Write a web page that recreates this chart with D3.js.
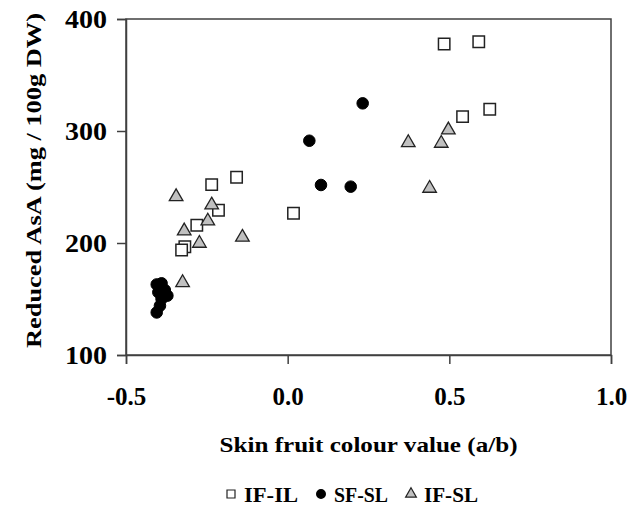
<!DOCTYPE html>
<html><head><meta charset="utf-8">
<script src="https://cdn.jsdelivr.net/npm/d3@7"></script>
<style>body{margin:0;background:#fff}svg{display:block}</style>
</head><body>
<script>
// Data
const ifilX = [0.484, 0.591, 0.541, 0.625, 0.018, -0.158, -0.235, -0.214, -0.281, -0.318, -0.328];
const ifilY = [377.7, 379.7, 312.8, 319.4, 226.5, 258.7, 252.1, 229.2, 215.8, 196.7, 193.8];
const sfslX = [0.232, 0.067, 0.103, 0.195, -0.405, -0.39, -0.38, -0.40, -0.372, -0.39, -0.395, -0.405];
const sfslY = [324.7, 291.3, 251.8, 250.3, 163, 164, 158, 156, 153, 150, 144, 138];
const ifslX = [0.373, 0.475, 0.497, 0.439, -0.345, -0.235, -0.247, -0.320, -0.273, -0.140, -0.325];
const ifslY = [289.6, 289.0, 300.9, 248.8, 241.3, 233.9, 219.6, 210.7, 199.7, 205.1, 164.6];
const xTicks = [-0.5, 0.0, 0.5, 1.0];
const yTicks = [100, 200, 300, 400];
const seriesNames = ["IF-IL", "SF-SL", "IF-SL"];

const W = 628, H = 508;
const FONT = "'Liberation Serif','Times New Roman',serif";
const svg = d3.select("body").append("svg").attr("width", W).attr("height", H);
const L = 126, R = 611, T = 19, B = 355;
const x = d3.scaleLinear().domain([-0.5, 1.0]).range([L, R]);
const y = d3.scaleLinear().domain([100, 400]).range([B, T]);
const axisColor = "#404040";

// plot box
svg.append("rect").attr("x", L).attr("y", T).attr("width", R - L).attr("height", B - T)
  .attr("fill", "none").attr("stroke", axisColor).attr("stroke-width", 1.5);

// axes
const xAxis = svg.append("g").attr("transform", `translate(0,${B})`)
  .call(d3.axisBottom(x).tickValues(xTicks).tickSize(9).tickPadding(24).tickFormat(d3.format(".1f")));
const yAxis = svg.append("g").attr("transform", `translate(${L},0)`)
  .call(d3.axisLeft(y).tickValues(yTicks).tickSize(9).tickPadding(10).tickFormat(d3.format("d")));
[xAxis, yAxis].forEach(g => {
  g.select(".domain").attr("stroke", axisColor).attr("stroke-width", 1.5);
  g.selectAll(".tick line").attr("stroke", axisColor).attr("stroke-width", 1.5);
  g.selectAll(".tick text").attr("fill", "#000").attr("font-family", FONT)
    .attr("font-weight", "bold").attr("font-size", 25);
});
xAxis.selectAll(".tick text").text(d => d3.format(".1f")(d).replace("−", "-"));
xAxis.selectAll(".tick text").attr("dy", "0").attr("y", 50);
yAxis.selectAll(".tick text").attr("dy", "0.35em").attr("textLength", 42).attr("lengthAdjust", "spacingAndGlyphs");

// axis titles
svg.append("text").attr("x", (L + R) / 2).attr("y", 452).attr("text-anchor", "middle")
  .attr("font-family", FONT).attr("font-weight", "bold").attr("font-size", 22)
  .attr("textLength", 298).attr("lengthAdjust", "spacingAndGlyphs")
  .text("Skin fruit colour value (a/b)");
svg.append("text").attr("transform", `translate(41,${(13 + 348) / 2}) rotate(-90)`)
  .attr("text-anchor", "middle")
  .attr("font-family", FONT).attr("font-weight", "bold").attr("font-size", 22)
  .attr("textLength", 335).attr("lengthAdjust", "spacingAndGlyphs")
  .text("Reduced AsA (mg / 100g DW)");

// marks
const ifil = ifilX.map((v, i) => [v, ifilY[i]]);
const sfsl = sfslX.map((v, i) => [v, sfslY[i]]);
const ifsl = ifslX.map((v, i) => [v, ifslY[i]]);
const sq = d3.symbol().type(d3.symbolSquare).size(130);
const tri = d3.symbol().type(d3.symbolTriangle).size(80);
const circ = d3.symbol().type(d3.symbolCircle).size(105);

svg.append("g").selectAll("path").data(ifil).join("path")
  .attr("d", sq).attr("transform", d => `translate(${x(d[0])},${y(d[1])})`)
  .attr("fill", "#fff").attr("stroke", "#222").attr("stroke-width", 1.5);
svg.append("g").selectAll("path").data(ifsl).join("path")
  .attr("d", tri).attr("transform", d => `translate(${x(d[0])},${y(d[1])})`)
  .attr("fill", "#c0c0c0").attr("stroke", "#222").attr("stroke-width", 1.3);
svg.append("g").selectAll("path").data(sfsl).join("path")
  .attr("d", circ).attr("transform", d => `translate(${x(d[0])},${y(d[1])})`)
  .attr("fill", "#000").attr("stroke", "#000").attr("stroke-width", 1);

// legend
const lg = svg.append("g");
const legY = 494;
const symbols = [
  {d: d3.symbol().type(d3.symbolSquare).size(64)(), fill: "#fff", stroke: "#222"},
  {d: d3.symbol().type(d3.symbolCircle).size(60)(), fill: "#000", stroke: "#000"},
  {d: d3.symbol().type(d3.symbolTriangle).size(50)(), fill: "#c0c0c0", stroke: "#222"}
];
let cx = 226;
seriesNames.forEach((name, i) => {
  lg.append("path").attr("d", symbols[i].d).attr("transform", `translate(${cx + 5},${legY})`)
    .attr("fill", symbols[i].fill).attr("stroke", symbols[i].stroke).attr("stroke-width", 1.2);
  const t = lg.append("text").attr("x", cx + 18).attr("y", legY + 8)
    .attr("font-family", FONT).attr("font-weight", "bold").attr("font-size", 22)
    .attr("textLength", 54).attr("lengthAdjust", "spacingAndGlyphs").text(name);
  cx += 18 + 54 + 18;
});
</script>
</body></html>
